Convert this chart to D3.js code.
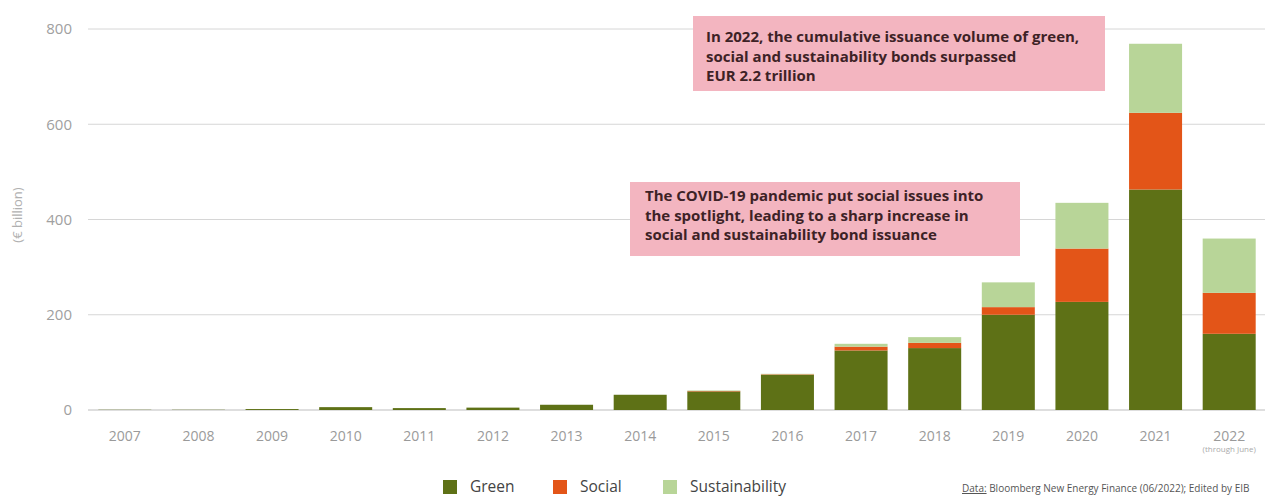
<!DOCTYPE html>
<html><head><meta charset="utf-8">
<script src="https://cdn.jsdelivr.net/npm/d3@7"></script>
<style>
html,body{margin:0;padding:0;background:#fff;}
svg{display:block;font-family:"Open Sans","Noto Sans",sans-serif;}
</style></head>
<body><svg id="c" width="1267" height="498"></svg>
<script>
const years = ["2007","2008","2009","2010","2011","2012","2013","2014","2015","2016","2017","2018","2019","2020","2021","2022"];
const green = [0.5,0.5,2,6,4,5,11,32,39,74,125,130,200,227,463,160];
const social = [0,0,0,0,0,0,0,0,1,1,8,11,16,112,161,86];
const sustainability = [0,0,0,0,0,0,0,0,1,1,6,12,52,96,145,114];
const yTicks = [0,200,400,600,800];
const seriesNames = ["Green","Social","Sustainability"];
const colors = ["#5e7116","#e35518","#b8d598"];
const note1 = ["In 2022, the cumulative issuance volume of green,","social and sustainability bonds surpassed","EUR 2.2 trillion"];
const note2 = ["The COVID-19 pandemic put social issues into","the spotlight, leading to a sharp increase in","social and sustainability bond issuance"];

const svg = d3.select("#c");
const x = d3.scaleBand().domain(years).range([88,1266]).paddingInner(0.28).paddingOuter(0.14);
const y = d3.scaleLinear().domain([0,800]).range([410,29]);

// gridlines
svg.append("g").selectAll("line").data(yTicks).join("line")
  .attr("x1",88).attr("x2",1265).attr("y1",d=>y(d)).attr("y2",d=>y(d))
  .attr("stroke",d=>d===0?"#bdbdbd":"#d6d6d6").attr("stroke-width",1);

// y labels
svg.append("g").selectAll("text").data(yTicks).join("text")
  .attr("x",72).attr("y",d=>y(d)).attr("dy","0.35em").attr("text-anchor","end")
  .attr("font-size",15).attr("fill","#a0a0a0").text(d=>d);

svg.append("text").attr("transform","translate(22,215) rotate(-90)")
  .attr("text-anchor","middle").attr("font-size",13).attr("fill","#b0b0b0").text("(€ billion)");

// stacked bars
const rows = years.map((yr,i)=>({year:yr,Green:green[i],Social:social[i],Sustainability:sustainability[i]}));
const stack = d3.stack().keys(seriesNames)(rows);
svg.append("g").selectAll("g").data(stack).join("g").attr("fill",(d,i)=>colors[i])
  .selectAll("rect").data(d=>d).join("rect")
  .attr("x",d=>x(d.data.year)).attr("width",x.bandwidth())
  .attr("y",d=>y(d[1])).attr("height",d=>Math.max(0,y(d[0])-y(d[1])));

// x labels
svg.append("g").selectAll("text").data(years).join("text")
  .attr("x",d=>x(d)+x.bandwidth()/2).attr("y",441).attr("text-anchor","middle")
  .attr("font-size",14).attr("fill","#9a9a9a").text(d=>d);
svg.append("text").attr("x",x("2022")+x.bandwidth()/2).attr("y",452).attr("text-anchor","middle")
  .attr("font-size",8).attr("fill","#aaa").text("(through June)");

// annotations
function note(lines,bx,by,bw,bh,tx,ty){
  svg.append("rect").attr("x",bx).attr("y",by).attr("width",bw).attr("height",bh).attr("fill","#f3b5c0");
  svg.append("g").selectAll("text").data(lines).join("text")
    .attr("x",tx).attr("y",(d,i)=>ty+i*19.5).attr("font-size",15).attr("font-weight","bold")
    .attr("fill","#3d2226").text(d=>d);
}
note(note1,693,16,412,75,706,42);
note(note2,630,182,390,74,645,201);

// legend
const lg = svg.append("g");
const lx = [443,553,663];
seriesNames.forEach((n,i)=>{
  lg.append("rect").attr("x",lx[i]).attr("y",480).attr("width",14).attr("height",14).attr("fill",colors[i]);
  lg.append("text").attr("x",lx[i]+27).attr("y",492).attr("font-size",15.5).attr("fill","#444").text(n);
});
const src = svg.append("text").attr("x",962).attr("y",492).attr("font-size",10).attr("fill","#555");
src.append("tspan").attr("text-decoration","underline").text("Data:");
src.append("tspan").text(" Bloomberg New Energy Finance (06/2022); Edited by EIB");
</script></body></html>
